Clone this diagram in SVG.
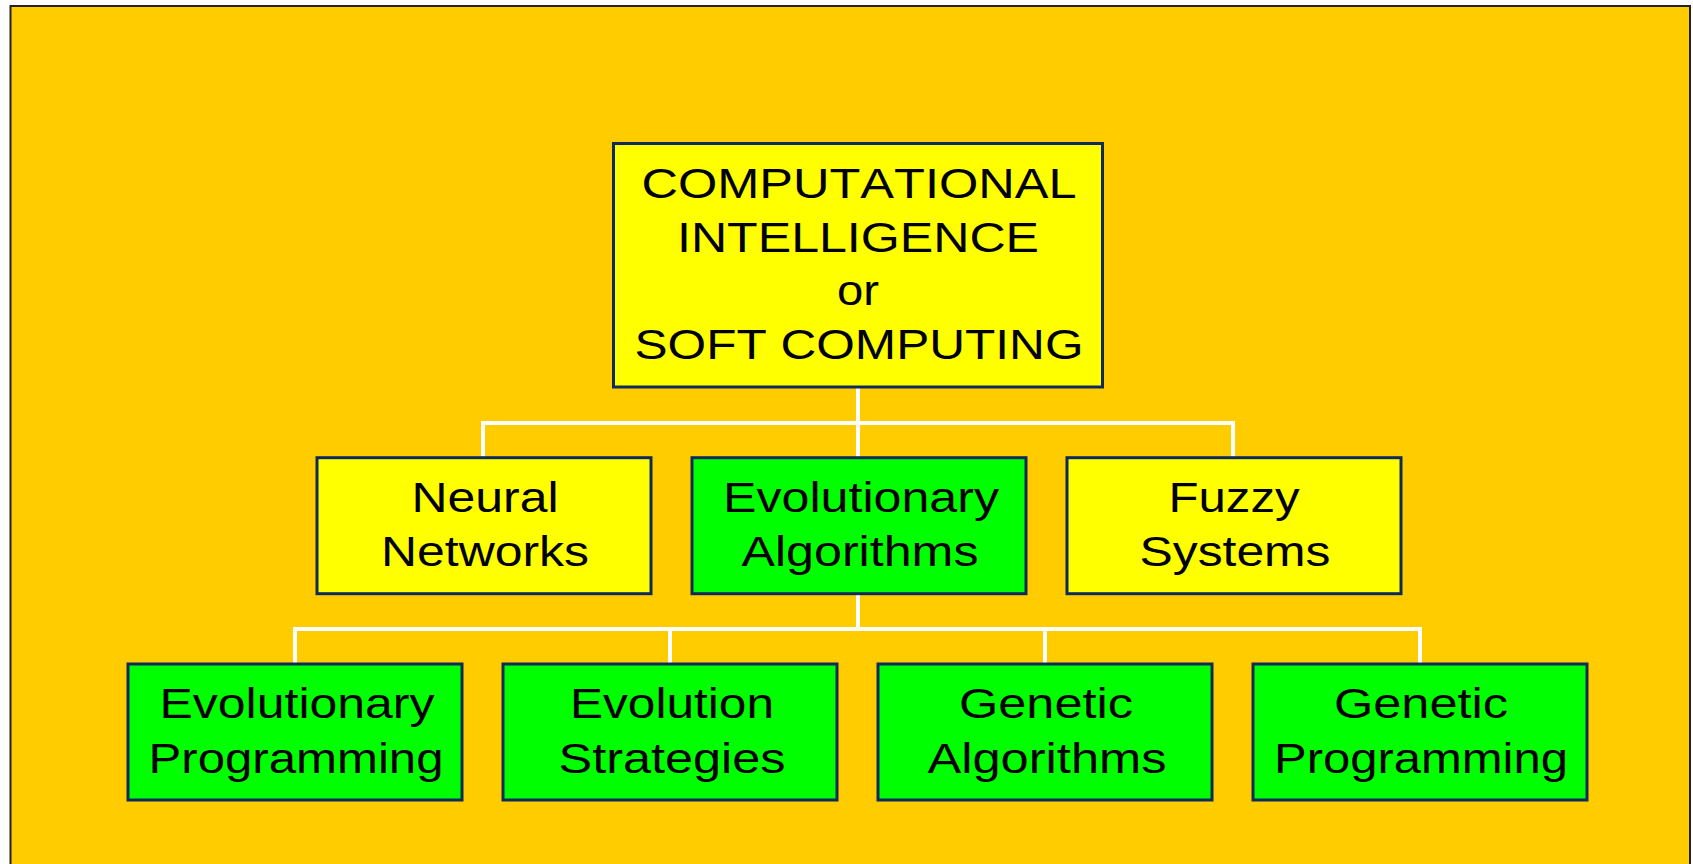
<svg xmlns="http://www.w3.org/2000/svg" width="1693" height="864" viewBox="0 0 1693 864">
<style>
.bg{fill:#FFCC00;stroke:#222;stroke-width:2}
.y{fill:#FFFF00;stroke:#0F2A5A;stroke-width:3}
.g{fill:#00FF00;stroke:#0F2A5A;stroke-width:3}
.t{font-family:"Liberation Sans",Arial,sans-serif;font-size:42px;fill:#000;text-anchor:middle;font-kerning:none}
.c{fill:none;stroke:#FFFFFF;stroke-width:4}
</style>
<rect x="0" y="0" width="1693" height="864" fill="#FFFFFF"/>
<rect class="bg" x="10.5" y="6" width="1679.5" height="880"/>
<g id="connectors">
<path class="c" d="M858 387 V423 M483 457.7 V423 H1233 V457.7 M858 423 V457.7"/>
<path class="c" d="M858 593.7 V629 M295 664 V629 H1420 V664 M670 629 V664 M1045 629 V664"/>
</g>
<g id="root">
<rect class="y" x="613.5" y="143.5" width="489" height="243.5"/>
<text class="t" x="859" y="198" textLength="435" lengthAdjust="spacingAndGlyphs">COMPUTATIONAL</text>
<text class="t" x="858" y="251.5" textLength="362" lengthAdjust="spacingAndGlyphs">INTELLIGENCE</text>
<text class="t" x="858" y="305" textLength="42" lengthAdjust="spacingAndGlyphs">or</text>
<text class="t" x="859" y="359" textLength="449" lengthAdjust="spacingAndGlyphs">SOFT COMPUTING</text>
</g>
<g id="neural">
<rect class="y" x="317" y="457.7" width="334" height="136"/>
<text class="t" x="485" y="511.7" textLength="147" lengthAdjust="spacingAndGlyphs">Neural</text>
<text class="t" x="485" y="566" textLength="208" lengthAdjust="spacingAndGlyphs">Networks</text>
</g>
<g id="evoalg">
<rect class="g" x="692" y="457.7" width="334" height="136"/>
<text class="t" x="861" y="511.7" textLength="276" lengthAdjust="spacingAndGlyphs">Evolutionary</text>
<text class="t" x="860" y="566" textLength="237" lengthAdjust="spacingAndGlyphs">Algorithms</text>
</g>
<g id="fuzzy">
<rect class="y" x="1067" y="457.7" width="334" height="136"/>
<text class="t" x="1234" y="511.7" textLength="131" lengthAdjust="spacingAndGlyphs">Fuzzy</text>
<text class="t" x="1235" y="566" textLength="191" lengthAdjust="spacingAndGlyphs">Systems</text>
</g>
<g id="evoprog">
<rect class="g" x="128" y="664" width="334" height="136"/>
<text class="t" x="297" y="718" textLength="275" lengthAdjust="spacingAndGlyphs">Evolutionary</text>
<text class="t" x="296" y="772.5" textLength="295" lengthAdjust="spacingAndGlyphs">Programming</text>
</g>
<g id="evostrat">
<rect class="g" x="503" y="664" width="334" height="136"/>
<text class="t" x="672" y="718" textLength="204" lengthAdjust="spacingAndGlyphs">Evolution</text>
<text class="t" x="672" y="772.5" textLength="227" lengthAdjust="spacingAndGlyphs">Strategies</text>
</g>
<g id="genalg">
<rect class="g" x="878" y="664" width="334" height="136"/>
<text class="t" x="1046" y="718" textLength="174" lengthAdjust="spacingAndGlyphs">Genetic</text>
<text class="t" x="1047" y="772.5" textLength="239" lengthAdjust="spacingAndGlyphs">Algorithms</text>
</g>
<g id="genprog">
<rect class="g" x="1253" y="664" width="334" height="136"/>
<text class="t" x="1421" y="718" textLength="174" lengthAdjust="spacingAndGlyphs">Genetic</text>
<text class="t" x="1421" y="772.5" textLength="294" lengthAdjust="spacingAndGlyphs">Programming</text>
</g>
</svg>
